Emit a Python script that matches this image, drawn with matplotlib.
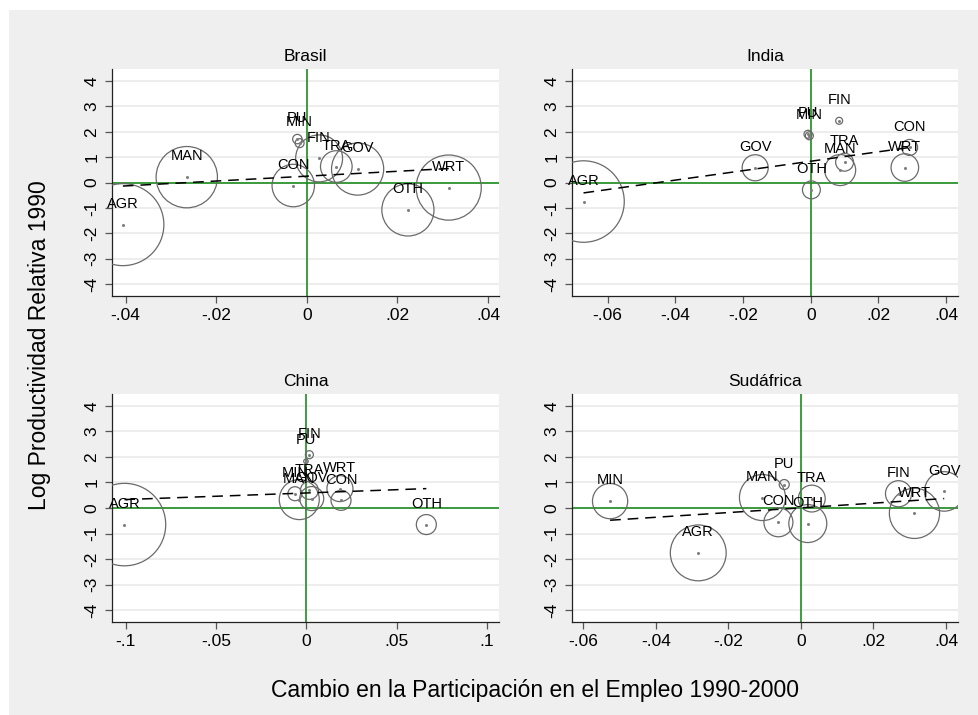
import numpy as np
import matplotlib.pyplot as plt
from matplotlib.patches import Rectangle
from matplotlib.ticker import FuncFormatter

plt.rcParams['font.family'] = ['Liberation Sans', 'DejaVu Sans']
plt.rcParams['axes.unicode_minus'] = False

# datos: cambio en participacion (x), log productividad relativa (y), peso del empleo
brasil_sec = ['AGR', 'MAN', 'CON', 'PU', 'MIN', 'FIN', 'TRA', 'GOV', 'OTH', 'WRT']
brasil_x = [-0.0406, -0.0265, -0.0030, -0.0021, -0.0016, 0.0027, 0.0065, 0.0112, 0.0223, 0.0313]
brasil_y = [-1.66, 0.21, -0.12, 1.71, 1.55, 0.95, 0.63, 0.53, -1.08, -0.20]
brasil_w = [16.8, 9.4, 4.5, 0.22, 0.2, 5.5, 2.5, 6.8, 6.8, 10.6]
brasil_fit = ([-0.0406, 0.0313], [-0.14, 0.55])

india_sec = ['AGR', 'GOV', 'PU', 'MIN', 'FIN', 'OTH', 'MAN', 'TRA', 'CON', 'WRT']
india_x = [-0.0671, -0.0164, -0.0008, -0.0004, 0.0084, 0.0002, 0.0087, 0.0100, 0.0292, 0.0278]
india_y = [-0.75, 0.58, 1.90, 1.84, 2.43, -0.29, 0.49, 0.80, 1.38, 0.59]
india_w = [16.6, 1.7, 0.16, 0.16, 0.12, 0.8, 2.4, 0.8, 0.64, 1.9]
india_fit = ([-0.0671, 0.0292], [-0.41, 1.38])

china_sec = ['AGR', 'OTH', 'FIN', 'PU', 'MIN', 'MAN', 'TRA', 'GOV', 'WRT', 'CON']
china_x = [-0.1006, 0.0664, 0.0017, -0.0002, -0.0063, -0.0039, 0.0017, 0.0030, 0.0186, 0.0192]
china_y = [-0.65, -0.65, 2.09, 1.83, 0.56, 0.33, 0.69, 0.37, 0.76, 0.30]
china_w = [17.0, 1.0, 0.16, 0.05, 0.49, 4.0, 0.81, 1.44, 1.69, 1.0]
china_fit = ([-0.1006, 0.0664], [0.33, 0.76])

sa_sec = ['MIN', 'AGR', 'MAN', 'PU', 'CON', 'TRA', 'OTH', 'FIN', 'WRT', 'GOV']
sa_x = [-0.0526, -0.0283, -0.0106, -0.0046, -0.0062, 0.0030, 0.0019, 0.0269, 0.0313, 0.0395]
sa_y = [0.27, -1.76, 0.41, 0.92, -0.56, 0.37, -0.61, 0.56, -0.21, 0.65]
sa_w = [3.1, 7.8, 5.3, 0.25, 2.1, 1.8, 3.6, 1.7, 6.3, 3.9]
sa_fit = ([-0.0526, 0.0395], [-0.48, 0.37])

W, H = 979, 715
fig = plt.figure(figsize=(W / 100, H / 100), dpi=100)
fig.patch.set_facecolor('white')
fig.patches.append(Rectangle((9 / W, 0), 1, 1 - 10 / H, transform=fig.transFigure,
                             facecolor='#efefef', edgecolor='none', zorder=-10))

green = '#1e8c1e'


def stata_fmt(v, pos):
    if abs(v) < 1e-12:
        return '0'
    s = ('%.2f' % v).rstrip('0')
    return s.replace('0.', '.')


def panel(rect_px, title, sec, x, y, w, fit, xlim, xticks):
    l, t, r, b = rect_px
    ax = fig.add_axes([l / W, 1 - b / H, (r - l) / W, (b - t) / H])
    ax.set_facecolor('white')
    ax.set_xlim(xlim)
    ax.set_ylim(-4.47, 4.47)
    ax.set_yticks(range(-4, 5))
    ax.set_xticks(xticks)
    ax.xaxis.set_major_formatter(FuncFormatter(stata_fmt))
    ax.grid(axis='y', color='#e8e8e8', lw=1.1, zorder=0)
    ax.set_axisbelow(True)
    for s in ['top', 'right']:
        ax.spines[s].set_visible(False)
    for s in ['left', 'bottom']:
        ax.spines[s].set_color('#222222')
        ax.spines[s].set_linewidth(0.9)
    ax.tick_params(axis='both', length=5, width=0.9, color='#555555',
                   labelsize=12.5, pad=4)
    for lab in ax.get_yticklabels():
        lab.set_rotation(90)
        lab.set_va('center')
    ax.axhline(0, color=green, lw=1.2, zorder=1)
    ax.axvline(0, color=green, lw=1.2, zorder=1)
    ax.scatter(x, y, s=np.array(w) * 207.4, facecolors='none',
               edgecolors='#6a6a6a', linewidths=0.9, zorder=3)
    ax.scatter(x, y, s=1.5, color='#808080', zorder=3)
    ax.plot(fit[0], fit[1], color='black', lw=1.1, dashes=(7, 4.5), zorder=4)
    for name, xi, yi in zip(sec, x, y):
        ax.annotate(name, (xi, yi), xytext=(0, 15), textcoords='offset points',
                    ha='center', va='center', fontsize=10.5, zorder=5)
    ax.set_title(title, fontsize=12.5, pad=6)
    return ax


panel((112, 69, 499, 296), 'Brasil', brasil_sec, brasil_x, brasil_y, brasil_w,
      brasil_fit, (-0.0430, 0.0424), [-0.04, -0.02, 0, 0.02, 0.04])
panel((572, 69, 958, 296), 'India', india_sec, india_x, india_y, india_w,
      india_fit, (-0.0705, 0.0435), [-0.06, -0.04, -0.02, 0, 0.02, 0.04])
panel((112, 394, 499, 622), 'China', china_sec, china_x, china_y, china_w,
      china_fit, (-0.1075, 0.1066), [-0.1, -0.05, 0, 0.05, 0.1])
panel((572, 394, 958, 622), 'Sudáfrica', sa_sec, sa_x, sa_y, sa_w,
      sa_fit, (-0.0631, 0.0433), [-0.06, -0.04, -0.02, 0, 0.02, 0.04])

fig.text(40 / W, 1 - 345 / H, 'Log Productividad Relativa 1990', rotation=90,
         ha='center', va='center', fontsize=16.5)
fig.text(535 / W, 1 - 690 / H, 'Cambio en la Participación en el Empleo 1990-2000',
         ha='center', va='center', fontsize=16.5)

fig.savefig('out.png', dpi=100, facecolor=fig.get_facecolor())
